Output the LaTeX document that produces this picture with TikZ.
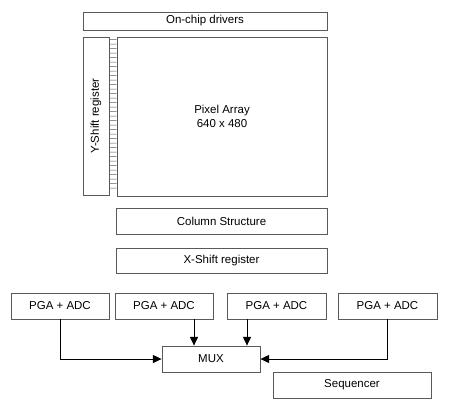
\documentclass[tikz,border=0pt]{standalone}
\usepackage{fontspec}
\setsansfont{Liberation Sans}
\usepackage{tikz}
\usetikzlibrary{arrows.meta,calc}
\begin{document}
\begin{tikzpicture}[x=0.3mm, y=-0.3mm,
  box/.style={draw=black!65, line width=0.7pt, font=\sffamily\fontsize{9.8}{12}\selectfont, align=center, inner sep=0pt, minimum height=7.8mm, minimum width=#1},
  box/.default=29.4mm,
  arr/.style={-{Triangle[length=2.6mm, width=2.4mm]}, line width=0.8pt},
  rung/.style={draw=black!65, line width=0.45pt}]
  \useasboundingbox (0,0) rectangle (450,409);
  % sensor core
  \node[box=73.2mm, minimum height=5.4mm] (drv) at (205,21) {On-chip drivers};
  \node[box=7.8mm, minimum height=47.4mm] (ysr) at (96,116) {};
  \node[font=\sffamily\fontsize{9.8}{12}\selectfont, rotate=90] (ysrt) at (ysr.center) {Y-Shift register};
  \node[box=63mm, minimum height=47.7mm] (pix) at (222,116.5) {Pixel Array\\640 x 480};
  \foreach \k in {0,...,33}
    \draw[rung] ($(ysr.north east)+(0,{3+4.5*\k})$) -- ($(pix.north west)+(0,{3+4.5*\k})$);
  \node[box=63.3mm] (col) at (221.5,221) {Column Structure};
  \node[box=63.3mm, minimum height=7.5mm] (xsr) at (221.5,260.5) {X-Shift register};
  % readout
  \node[box] (p1) at (60,306) {PGA + ADC};
  \node[box] (p2) at (164,306) {PGA + ADC};
  \node[box=29.7mm] (p3) at (276.5,306) {PGA + ADC};
  \node[box=29.7mm] (p4) at (387.5,306) {PGA + ADC};
  \node[box] (mux) at (211,359) {MUX};
  \node[box=47.4mm] (seq) at (352,385) {Sequencer};
  \draw[arr] (p1.south) |- (mux.west);
  \draw[arr] ([xshift=9mm]p2.south) -- ([xshift=9mm]p2.south |- mux.north);
  \draw[arr] ([xshift=-8.85mm]p3.south) -- ([xshift=-8.85mm]p3.south |- mux.north);
  \draw[arr] (p4.south) |- (mux.east);
\end{tikzpicture}
\end{document}
